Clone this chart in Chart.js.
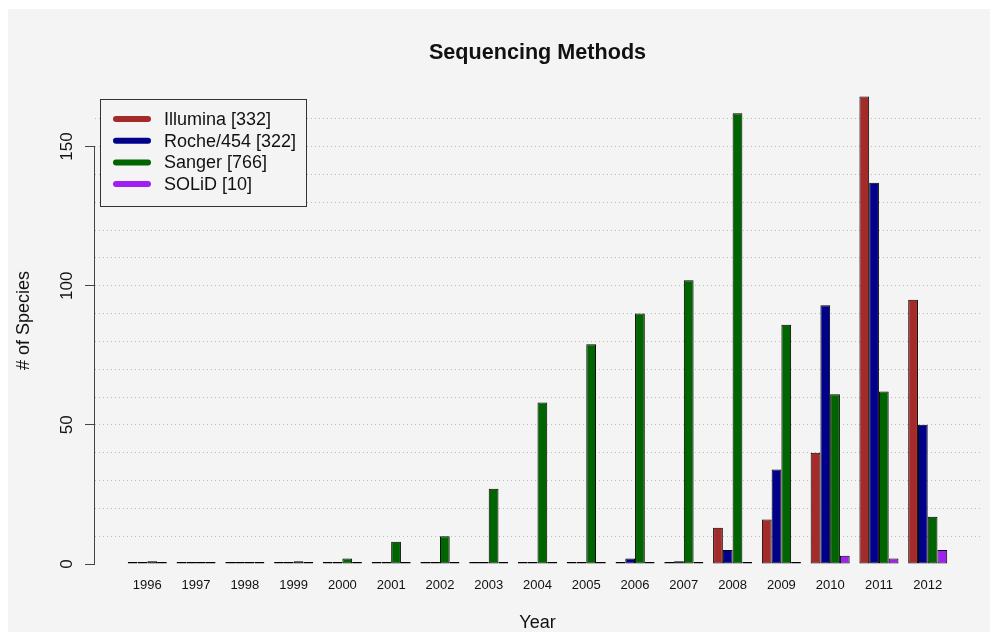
<!DOCTYPE html>
<html>
<head>
<meta charset="utf-8">
<title>Sequencing Methods</title>
<script src="https://cdn.jsdelivr.net/npm/chart.js@4.4.1/dist/chart.umd.min.js"></script>
<style>
  html, body { margin: 0; padding: 0; background: #ffffff; }
  canvas { display: block; }
</style>
</head>
<body>
<canvas id="chart" width="990" height="632"></canvas>
<script>
// Species sequenced per year, by sequencing technology
const years    = [1996, 1997, 1998, 1999, 2000, 2001, 2002, 2003, 2004, 2005, 2006, 2007, 2008, 2009, 2010, 2011, 2012];
const illumina = [0, 0, 0, 0, 0, 0, 0, 0, 0, 0, 0, 0, 13, 16, 40, 168, 95];
const roche454 = [0, 0, 0, 0, 0, 0, 0, 0, 0, 0, 2, 1, 5, 34, 93, 137, 50];
const sanger   = [1, 0, 0, 1, 2, 8, 10, 27, 58, 79, 90, 102, 162, 86, 61, 62, 17];
const solid    = [0, 0, 0, 0, 0, 0, 0, 0, 0, 0, 0, 0, 0, 0, 3, 2, 5];

const methodNames = ['Illumina', 'Roche/454', 'Sanger', 'SOLiD'];
const methodSeries = [illumina, roche454, sanger, solid];

// y axis: dotted guide lines every 10, labelled ticks every 50
const yGridValues  = [0, 10, 20, 30, 40, 50, 60, 70, 80, 90, 100, 110, 120, 130, 140, 150, 160];
const yLabelValues = [0, 50, 100, 150];

const methodColors = ['#a52a2a', '#00008b', '#006400', '#a020f0'];
const FONT = '"Liberation Sans", Arial, Helvetica, sans-serif';
const PAGE_BG = '#ffffff';
const PLOT_BG = '#f4f4f4';
const INK = '#111111';

Chart.defaults.font.family = FONT;
Chart.defaults.color = INK;

const total = arr => arr.reduce((s, v) => s + v, 0);

const datasets = methodSeries.map((vals, i) => ({
  label: methodNames[i] + ' [' + total(vals) + ']',
  data: years.map((yr, j) => ({ x: yr, y: vals[j] })),
  backgroundColor: methodColors[i],
  borderColor: '#000000',
  borderWidth: 1,
  borderSkipped: false,
  minBarLength: 2,
  categoryPercentage: 0.8,
  barPercentage: 1.0
}));

// page + plot background
const backdrop = {
  id: 'backdrop',
  beforeDraw(chart) {
    const { ctx, width, height } = chart;
    ctx.save();
    ctx.fillStyle = PAGE_BG;
    ctx.fillRect(0, 0, width, height);
    ctx.fillStyle = PLOT_BG;
    ctx.fillRect(8, 9, width - 8, height - 9);
    ctx.restore();
  }
};

// classic y axis line spanning only the labelled range
const axisLine = {
  id: 'axisLine',
  afterDatasetsDraw(chart) {
    const { ctx, chartArea, scales } = chart;
    const x = Math.round(chartArea.left) - 0.5;
    const y0 = scales.y.getPixelForValue(yLabelValues[0]);
    const y1 = scales.y.getPixelForValue(yLabelValues[yLabelValues.length - 1]);
    ctx.save();
    ctx.strokeStyle = '#444444';
    ctx.lineWidth = 1;
    ctx.beginPath();
    ctx.moveTo(x, Math.round(y0));
    ctx.lineTo(x, Math.round(y1));
    ctx.stroke();
    ctx.restore();
  }
};

// boxed legend in the upper left of the plot
const boxLegend = {
  id: 'boxLegend',
  afterDatasetsDraw(chart) {
    const { ctx, chartArea } = chart;
    const bx = Math.round(chartArea.left) + 5;
    const by = Math.round(chartArea.top) + 22;
    const bw = 206, bh = 107, rowGap = 21.7;
    ctx.save();
    ctx.fillStyle = PLOT_BG;
    ctx.fillRect(bx, by, bw, bh);
    ctx.strokeStyle = '#333333';
    ctx.lineWidth = 1;
    ctx.strokeRect(bx + 0.5, by + 0.5, bw, bh);
    chart.data.datasets.forEach((ds, i) => {
      const y = by + 20 + i * rowGap;
      ctx.strokeStyle = ds.backgroundColor;
      ctx.lineWidth = 6;
      ctx.lineCap = 'round';
      ctx.beginPath();
      ctx.moveTo(bx + 16, y);
      ctx.lineTo(bx + 48, y);
      ctx.stroke();
      ctx.fillStyle = INK;
      ctx.font = '18px ' + FONT;
      ctx.textBaseline = 'middle';
      ctx.textAlign = 'left';
      ctx.fillText(ds.label, bx + 64, y + 1);
    });
    ctx.restore();
  }
};

new Chart(document.getElementById('chart'), {
  type: 'bar',
  data: { datasets },
  plugins: [backdrop, axisLine, boxLegend],
  options: {
    responsive: false,
    animation: false,
    devicePixelRatio: 1,
    layout: { padding: { left: 0, right: 10, top: 0, bottom: 0 } },
    plugins: {
      legend: { display: false },
      tooltip: { enabled: false },
      title: {
        display: true,
        text: 'Sequencing Methods',
        fullSize: false,
        color: INK,
        font: { size: 21.6, weight: 'bold', lineHeight: 1.2 },
        padding: { top: 40.5, bottom: 10.6 }
      }
    },
    scales: {
      x: {
        type: 'linear',
        offset: false,
        min: 1994.928,
        max: 2013.072,
        afterBuildTicks: scale => { scale.ticks = years.map(v => ({ value: v })); },
        afterFit: scale => { scale.height = 68; },
        grid: { display: false, drawTicks: false, offset: false },
        border: { display: false },
        ticks: {
          autoSkip: false,
          minRotation: 0,
          maxRotation: 0,
          padding: 14,
          color: INK,
          font: { size: 13 },
          callback: v => String(v)
        },
        title: {
          display: true,
          text: 'Year',
          color: INK,
          font: { size: 18 },
          padding: { top: 0, bottom: -2 }
        }
      },
      y: {
        min: 0,
        max: 175,
        afterBuildTicks: scale => { scale.ticks = yGridValues.map(v => ({ value: v })); },
        afterFit: scale => { scale.width = 95; },
        grid: {
          color: c => (c.tick && c.tick.value > 0) ? '#bdbdbd' : 'rgba(0,0,0,0)',
          lineWidth: 1,
          drawTicks: true,
          tickLength: 10,
          tickWidth: 1,
          tickColor: c => (c.tick && yLabelValues.includes(c.tick.value)) ? '#444444' : 'rgba(0,0,0,0)'
        },
        border: { display: false, dash: [1, 3] },
        ticks: {
          autoSkip: false,
          minRotation: 90,
          maxRotation: 90,
          crossAlign: 'center',
          padding: 4,
          color: INK,
          font: { size: 17 },
          callback: v => yLabelValues.includes(v) ? String(v) : ''
        },
        title: {
          display: true,
          text: '# of Species',
          color: INK,
          font: { size: 18 },
          padding: { top: 13, bottom: 0 }
        }
      }
    }
  }
});
</script>
</body>
</html>
